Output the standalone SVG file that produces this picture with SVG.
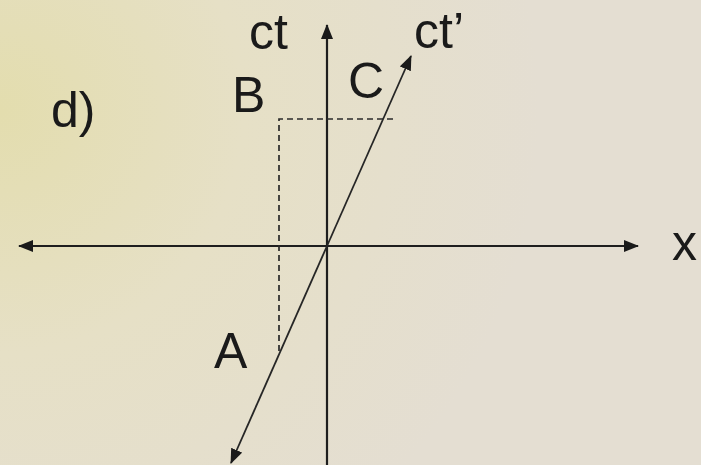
<svg xmlns="http://www.w3.org/2000/svg" width="701" height="465" viewBox="0 0 701 465">
<defs>
<radialGradient id="bg" cx="0" cy="110" r="540" gradientUnits="userSpaceOnUse">
<stop offset="0" stop-color="#e3ddae"/>
<stop offset="0.45" stop-color="#e6e0c6"/>
<stop offset="1" stop-color="#e4ded2"/>
</radialGradient>
<marker id="ah" viewBox="0 0 15 12" refX="14" refY="6" markerWidth="15" markerHeight="12" markerUnits="userSpaceOnUse" orient="auto">
<path d="M0,0 L15,6 L0,12 Z" fill="#1a1a1a"/>
</marker>
<style>
.ax{stroke:#1e1e1e;stroke-width:2.2;fill:none}
.ob{stroke:#262626;stroke-width:1.8;fill:none}
.da{stroke:#2a2a2a;stroke-width:1.7;stroke-dasharray:6 4;fill:none}
.lb{font-family:"Liberation Sans",Arial,sans-serif;font-size:50px;fill:#1a1a1a}
</style>
</defs>
<rect width="701" height="465" fill="url(#bg)"/>
<g id="connectors">
<line class="ax" x1="327" y1="246" x2="19" y2="246" marker-end="url(#ah)"/>
<line class="ax" x1="327" y1="246" x2="638" y2="246" marker-end="url(#ah)"/>
<line class="ax" x1="327" y1="465" x2="327" y2="25" marker-end="url(#ah)"/>
<line class="ob" x1="327" y1="246" x2="411" y2="56" marker-end="url(#ah)"/>
<line class="ob" x1="327" y1="246" x2="231" y2="463" marker-end="url(#ah)"/>
<polyline class="da" points="393,119 279,119 279,354"/>
</g>
<g id="label-d"><text class="lb" x="51" y="127">d)</text></g>
<g id="label-ct"><text class="lb" x="249" y="49">ct</text></g>
<g id="label-ctp"><text class="lb" x="414" y="48">ct’</text></g>
<g id="node-B"><text class="lb" x="232" y="112">B</text></g>
<g id="node-C"><text class="lb" x="348" y="98">C</text></g>
<g id="node-A"><text class="lb" x="214" y="368">A</text></g>
<g id="label-x"><text class="lb" x="672" y="260">x</text></g>
</svg>
